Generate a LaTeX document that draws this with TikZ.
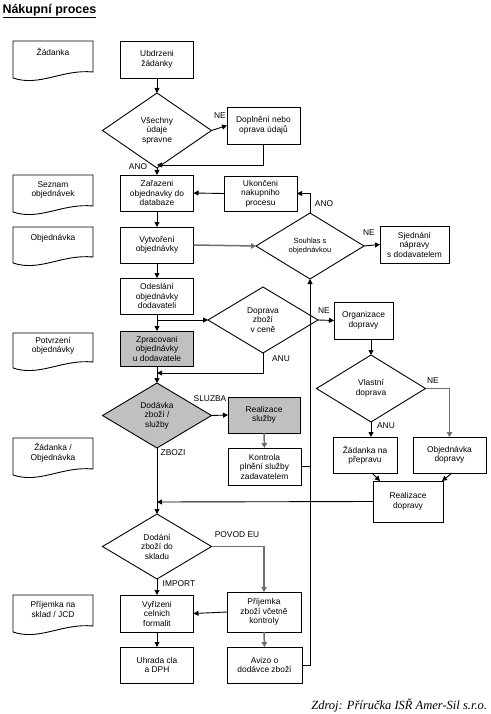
\documentclass[tikz,border=0pt]{standalone}
\usepackage{fontspec}
\setmainfont{Liberation Sans}
\newfontfamily\srcfont{Liberation Serif}
\usetikzlibrary{arrows.meta,shapes.geometric}
\definecolor{fillgray}{RGB}{192,192,192}
\definecolor{linegray}{RGB}{110,110,110}
\newcommand{\docshape}[2]{\draw[docline] (13,#1) -- (93,#1) -- (93,#2-6) .. controls (62,#2-9) and (40,#2+9) .. (13,#2) -- cycle;}
\begin{document}
\begin{tikzpicture}[x=1pt,y=-1pt,
  every node/.style={font=\fontsize{8.4}{9.5}\selectfont, align=center, inner sep=0pt, outer sep=0pt},
  box/.style={draw=black, line width=0.9pt, rectangle},
  gbox/.style={box, fill=fillgray},
  dia/.style={draw=black, line width=0.9pt, diamond},
  gdia/.style={dia, fill=fillgray},
  arr/.style={line width=0.9pt, -{Triangle[length=5pt,width=5pt]}},
  garr/.style={arr, draw=linegray, line width=1.5pt, -{Triangle[length=5pt,width=5.5pt]}},
  ln/.style={line width=0.9pt},
  lbl/.style={font=\fontsize{8.4}{9.5}\selectfont},
  docline/.style={line width=0.9pt}]
\useasboundingbox (0,0) rectangle (490,714);

% title
\node[font=\fontsize{12.5}{14}\selectfont\bfseries, anchor=west] (title) at (2.5,11) {\underline{Nákupní proces}};

% document shapes
\docshape{41}{78}
\docshape{175}{212}
\docshape{227}{263}
\docshape{333}{368}
\docshape{438}{475}
\docshape{595}{632}
\node (doc1) at (53,52) {Žádanka};
\node (doc2) at (53,190) {Seznam\\objednávek};
\node (doc3) at (53,238) {Objednávka};
\node (doc4) at (53,346) {Potvrzení\\objednávky};
\node (doc5) at (53,452.5) {Žádanka /\\Objednávka};
\node (doc6) at (53,609.5) {Příjemka na\\sklad / JCD};

% main column boxes
\node[box, minimum width=73, minimum height=37] (ubd) at (157,59.5) {Ubdrzeni\\žádanky};
\node[box, minimum width=73, minimum height=36] (zar) at (157,193) {Zařazeni\\objednavky do\\databaze};
\node[box, minimum width=73, minimum height=36] (vyt) at (157,245) {Vytvoření\\objednávky};
\node[box, minimum width=73, minimum height=36] (ode) at (157,296) {Odeslání\\objednávky\\dodavateli};
\node[gbox, minimum width=73, minimum height=35] (zpr) at (157,348.5) {Zpracovani\\objednávky\\u dodavatele};
\node[box, minimum width=73, minimum height=37] (vyr) at (157,613.5) {Vyřizeni\\celnich\\formalit};
\node[box, minimum width=73, minimum height=36] (uhr) at (157,665) {Uhrada cla\\a DPH};

% other boxes
\node[box, minimum width=73, minimum height=37] (dop) at (263.5,125.5) {Doplnění nebo\\oprava údajů};
\node[box, minimum width=73, minimum height=35] (uko) at (260.5,193.5) {Ukončeni\\nakupniho\\procesu};
\node[box, minimum width=69, minimum height=37] (sje) at (414.5,244.5) {Sjednání\\nápravy\\s dodavatelem};
\node[box, minimum width=59, minimum height=37] (org) at (363.5,320.5) {Organizace\\dopravy};
\node[gbox, minimum width=72, minimum height=36] (rsl) at (264,415) {Realizace\\služby};
\node[box, minimum width=73, minimum height=37] (kon) at (264.5,466.5) {Kontrola\\plnění služby\\zadavatelem};
\node[box, minimum width=64, minimum height=36] (zpp) at (365,455) {Žádanka na\\přepravu};
\node[box, minimum width=73, minimum height=36] (obd) at (449.5,455) {Objednávka\\dopravy};
\node[box, minimum width=70, minimum height=41] (rdo) at (408,501.5) {Realizace\\dopravy};
\node[box, minimum width=74, minimum height=40] (pri) at (264,612) {Příjemka\\zboží včetně\\kontroly};
\node[box, minimum width=75, minimum height=36] (avi) at (264.5,665) {Avizo o\\dodávce zboží};

% diamonds
\node[dia, minimum width=109, minimum height=75] (d1) at (157,130.5) {};
\node (d1t) at (d1) {Všechny\\údaje\\spravne};
\node[dia, minimum width=108, minimum height=66] (d2) at (310,246) {};
\node[font=\fontsize{7.5}{9}\selectfont] (d2t) at (d2) {Souhlas s\\objednávkou};
\node[dia, minimum width=110, minimum height=66] (d3) at (263,320) {};
\node (d3t) at (d3) {Doprava\\zboží\\v ceně};
\node[gdia, minimum width=109, minimum height=65] (d4) at (157,415.5) {};
\node (d4t) at (d4) {Dodávka\\zboží /\\služby};
\node[dia, minimum width=109, minimum height=67] (d5) at (371,388.5) {};
\node (d5t) at (d5) {Vlastní\\doprava};
\node[dia, minimum width=109, minimum height=65] (d6) at (157,546.5) {};
\node (d6t) at (d6) {Dodání\\zboží do\\skladu};

% junction coordinates
\coordinate (j1) at (157,165);
\coordinate (j2) at (157,320);
\coordinate (j3) at (157,373);
\coordinate (j4) at (157,502);

% connectors
\draw[arr] (ubd) -- (d1);
\draw[arr] (d1.east) -- (dop.west);
\draw[arr] (dop.south) |- (j1);
\draw[arr] (d1.south) -- (zar.north);
\draw[arr] (uko.west) -- (zar.east);
\draw[arr] (d2.north) |- (uko.east);
\draw[arr] (zar.south) -- (vyt.north);
\draw[garr] (vyt.east) -- (d2.west);
\draw[arr] (d2.east) -- (sje.west);
\draw[arr] (vyt.south) -- (ode.north);
\draw[arr] (ode.south) -- (zpr.north);
\draw[arr] (j2) -- (d3.west);
\draw[arr] (d3.south) |- (j3);
\draw[arr] (d3.east) -- (org.west);
\draw[arr] (zpr.south) -- (d4.north);
\draw[arr] (d5.north |- org.south) -- (d5.north);
\draw[arr] (d5.south) -- (d5.south |- zpp.north);
\draw[garr] (d5.east) -| (obd.north);
\draw[arr] ([xshift=7pt]zpp.south) -- ([xshift=-28pt]rdo.north);
\draw[arr] ([xshift=2.5pt]obd.south) -- ([xshift=34pt]rdo.north);
\draw[arr] (rdo.west) -- (j4);
\draw[arr] (d4.east) -- (rsl.west);
\draw[garr] (rsl.south) -- (kon.north);
\draw[ln] (kon.east) -- (kon.east -| d2.south);
\draw[arr] (avi.east) -| (d2.south);
\draw[arr] (d4.south) -- (d6.north);
\draw[garr] (d6.east) -| (pri.north);
\draw[arr] (d6.south) -- (vyr.north);
\draw[arr] (pri.west) -- (vyr.east);
\draw[arr] (vyr.south) -- (uhr.north);
\draw[garr] (pri.south) -- (avi.north);

% labels
\node[lbl] (l1) at (220,116) {NE};
\node[lbl] (l2) at (138,167) {ANO};
\node[lbl] (l3) at (324,204) {ANO};
\node[lbl] (l4) at (369,233) {NE};
\node[lbl] (l5) at (281,359) {ANU};
\node[lbl] (l6) at (324,311) {NE};
\node[lbl] (l7) at (433,381) {NE};
\node[lbl] (l8) at (386,426) {ANU};
\node[lbl] (l9) at (210,399) {SLUZBA};
\node[lbl] (l10) at (173,453) {ZBOZI};
\node[lbl] (l11) at (237,535) {POVOD EU};
\node[lbl] (l12) at (179,584) {IMPORT};

% source
\node[font=\srcfont\itshape\fontsize{12.5}{14}\selectfont, anchor=east] (src) at (487,705) {Zdroj: Příručka ISŘ Amer-Sil s.r.o.};
\end{tikzpicture}
\end{document}
